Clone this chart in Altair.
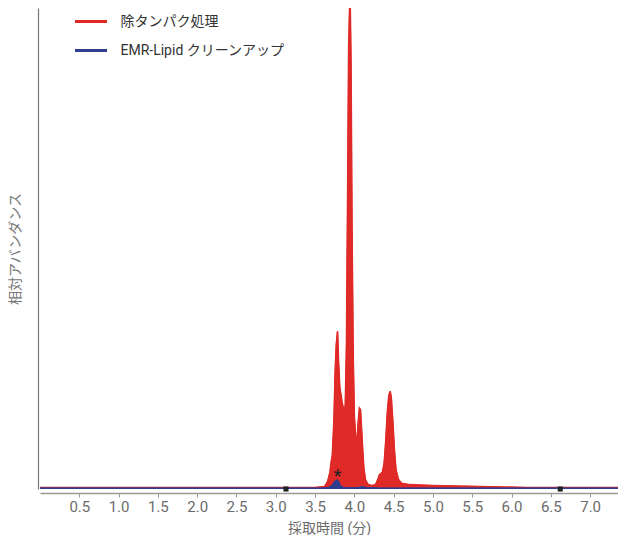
import altair as alt
import pandas as pd

# Red trace (除タンパク処理): retention time (min) and relative abundance (%)
red_t = [0.0, 1.0, 2.0, 3.0, 3.5, 3.62, 3.66, 3.69, 3.705, 3.72, 3.74, 3.755, 3.77, 3.786, 3.80, 3.815,
         3.83, 3.842, 3.857, 3.87, 3.885, 3.90, 3.915, 3.928, 3.94, 3.948, 3.958, 3.97, 3.985, 4.0,
         4.015, 4.033, 4.05, 4.065, 4.078, 4.09, 4.105, 4.12, 4.14, 4.17, 4.22, 4.27, 4.30, 4.32,
         4.34, 4.36, 4.38, 4.40, 4.42, 4.44, 4.456, 4.47, 4.49, 4.51, 4.53, 4.56, 4.60, 4.70,
         4.85, 5.0, 5.3, 5.6, 5.9, 6.2, 6.6, 7.0, 7.36]
red_y = [0.3, 0.3, 0.3, 0.3, 0.3, 0.5, 1.5, 3.5, 5.6, 7.0, 14.0, 24.0, 30.0, 32.8, 26.0, 21.0,
         19.5, 18.2, 17.0, 15.8, 17.5, 30.0, 62.0, 92.0, 100.0, 100.0, 88.0, 55.0, 28.0, 15.0,
         11.0, 10.0, 14.0, 16.8, 16.5, 13.0, 8.5, 4.5, 2.0, 1.0, 0.7, 0.9, 2.0, 3.0,
         3.2, 3.6, 5.5, 10.0, 16.0, 19.5, 20.3, 19.0, 14.0, 8.0, 4.0, 2.0, 1.2, 0.9,
         0.8, 0.7, 0.6, 0.5, 0.4, 0.3, 0.3, 0.3, 0.3]

# Blue trace (EMR-Lipid クリーンアップ)
blue_t = [0.0, 1.0, 2.0, 3.0, 3.6, 3.68, 3.72, 3.745, 3.765, 3.78, 3.795, 3.81, 3.83, 3.86, 3.95,
          4.05, 4.10, 4.15, 4.30, 5.0, 6.0, 7.0, 7.36]
blue_y = [0.1, 0.1, 0.1, 0.1, 0.15, 0.3, 0.7, 1.3, 1.7, 1.8, 1.5, 1.0, 0.5, 0.25, 0.2,
          0.25, 0.4, 0.25, 0.15, 0.1, 0.1, 0.1, 0.1]

series_names = ["除タンパク処理", "EMR-Lipid クリーンアップ"]
series_colors = ["#e02a27", "#2f3d8f"]

marker_t = [3.13, 6.62]
marker_y = [0.0, 0.0]

star_t = [3.786]
star_y = [2.3]
star_text = ["*"]

x_ticks = [0.5, 1.0, 1.5, 2.0, 2.5, 3.0, 3.5, 4.0, 4.5, 5.0, 5.5, 6.0, 6.5, 7.0]

red_df = pd.DataFrame({"t": red_t, "y": red_y, "series": series_names[0]})
blue_df = pd.DataFrame({"t": blue_t, "y": blue_y, "series": series_names[1]})
traces = pd.concat([red_df, blue_df], ignore_index=True)
markers = pd.DataFrame({"t": marker_t, "y": marker_y})
stars = pd.DataFrame({"t": star_t, "y": star_y, "label": star_text})

FONT = "Roboto, Noto Sans CJK JP, sans-serif"

xscale = alt.Scale(domain=[0, 7.355], nice=False, zero=False)
yscale = alt.Scale(domain=[0, 100], nice=False)
cscale = alt.Scale(domain=series_names, range=series_colors)

x_enc = alt.X("t:Q", scale=xscale,
              axis=alt.Axis(title="採取時間 (分)", values=x_ticks, format=".1f", grid=False,
                            offset=4, labelFontSize=15, labelColor="#6b6b6b", labelFont=FONT,
                            labelPadding=2, tickSize=4, tickColor="#999999",
                            domainColor="#999999", domainWidth=1.5,
                            titleFont=FONT, titleFontSize=14, titleFontWeight="normal",
                            titleColor="#6b6b6b", titlePadding=7))
y_enc = alt.Y("y:Q", scale=yscale,
              axis=alt.Axis(title="相対アバンダンス", labels=False, ticks=False, grid=False,
                            offset=2, domainColor="#777777", domainWidth=1.2,
                            titleFont=FONT, titleFontSize=14, titleFontWeight="normal",
                            titleColor="#777777", titlePadding=16))

red_area = alt.Chart(red_df).mark_area(
    color=series_colors[0], opacity=1, fillOpacity=1, clip=True,
    line={"color": series_colors[0], "strokeWidth": 1}).encode(x=x_enc, y=y_enc)
blue_area = alt.Chart(blue_df).mark_area(
    color=series_colors[1], opacity=1, fillOpacity=1, clip=True).encode(x=x_enc, y=y_enc)

lines = alt.Chart(traces).mark_line(strokeWidth=1.6, clip=True).encode(
    x=x_enc, y=y_enc,
    color=alt.Color("series:N", scale=cscale,
                    legend=alt.Legend(title=None, orient="none", legendX=41.5, legendY=4,
                                      symbolType="M-2,0H2", symbolSize=256, symbolStrokeWidth=3,
                                      labelFont=FONT, labelFontSize=14, labelColor="#333333",
                                      labelOffset=20, labelLimit=400, rowPadding=12)),
    detail="series:N",
)

blue_line = alt.Chart(blue_df).mark_line(color=series_colors[1], strokeWidth=1.8, clip=True).encode(
    x=x_enc, y=y_enc)

sq = alt.Chart(markers).mark_square(color="#222222", size=26, opacity=1).encode(x=x_enc, y=y_enc)

star = alt.Chart(stars).mark_text(font=FONT, fontSize=18, color="#222222", baseline="bottom", dy=8).encode(
    x=x_enc, y=y_enc, text="label:N")

chart = alt.layer(red_area, lines, blue_area, blue_line, sq, star).properties(
    width=578, height=481, padding=0
).configure(font=FONT).configure_view(stroke=None)

chart.save("out.html", embed_options={"renderer": "svg", "actions": False})
